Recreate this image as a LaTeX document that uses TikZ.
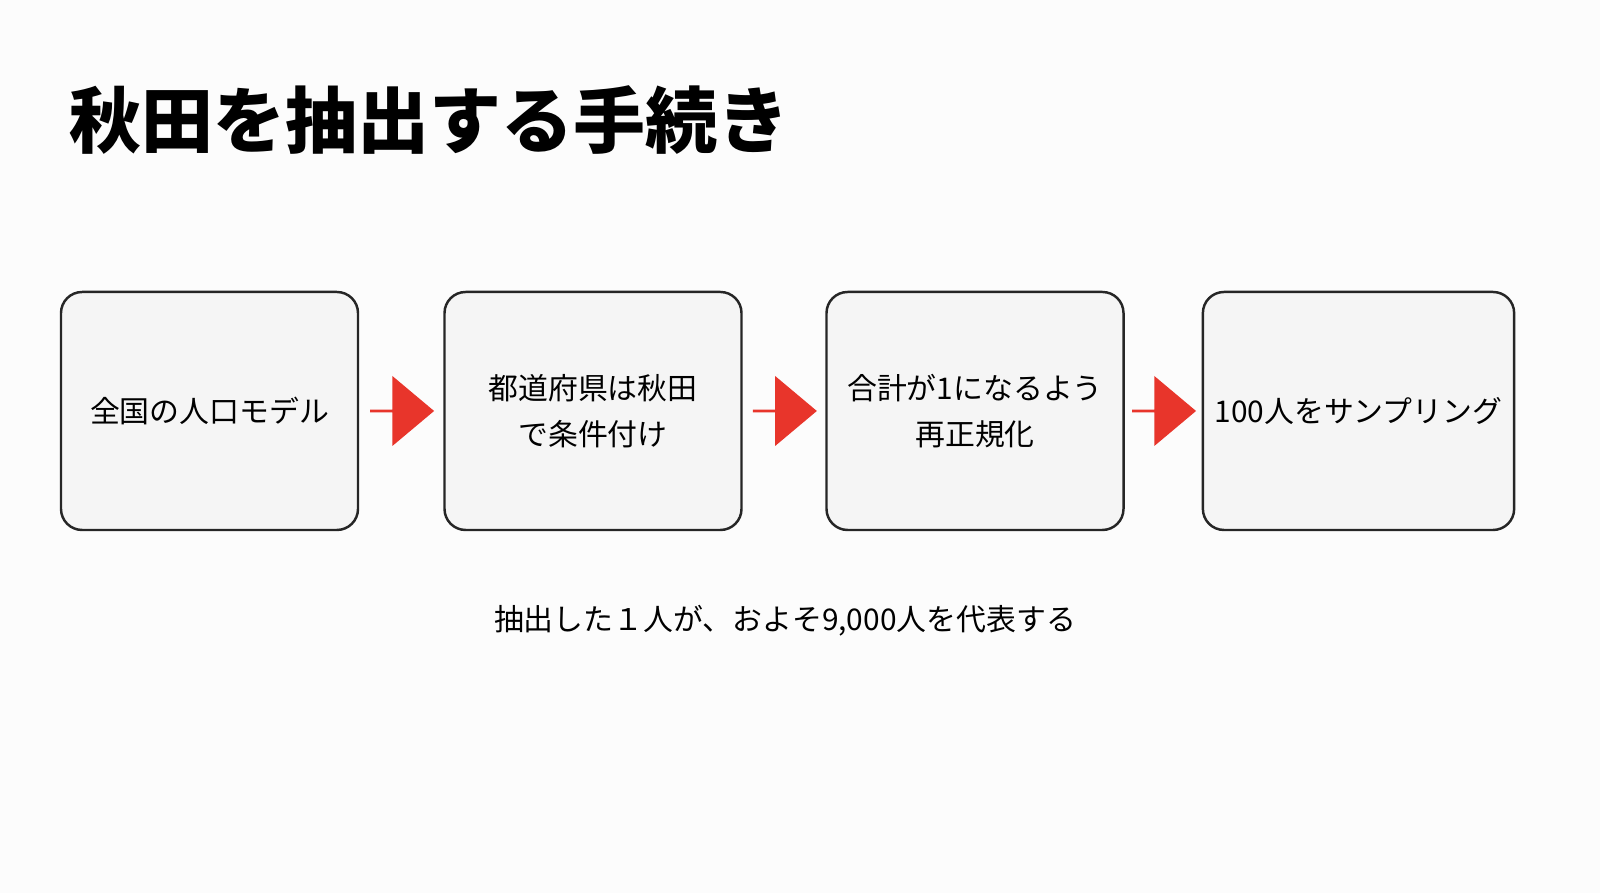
\documentclass[tikz,border=0pt]{standalone}
\usepackage{fontspec}
\setmainfont{Noto Sans CJK JP}
\newfontfamily\titlefont{Noto Sans CJK JP Black}
\usetikzlibrary{positioning,shapes.arrows,calc}
\definecolor{arrowred}{HTML}{E8352B}

\tikzset{
  stepbox/.style={draw=black!85, line width=0.7pt, rounded corners=6pt, fill=black!4,
    minimum width=2.97cm, minimum height=2.38cm, align=center, font=\fontsize{8.5}{13}\selectfont},
  redarrow/.style={single arrow, fill=arrowred, draw=none, minimum height=0.64cm,
    minimum width=0.7cm, single arrow head extend=0.17cm, single arrow tip angle=80, inner sep=0pt}
}

\begin{document}
\begin{tikzpicture}
  \fill[black!1] (0,0) rectangle (16,8.93);
  \useasboundingbox (0,0) rectangle (16,8.93);
  \node[anchor=west, font=\titlefont\fontsize{20.5}{24}\selectfont] (title) at (0.57,7.73) {秋田を抽出する手続き};
  % the four steps
  \node[stepbox] (model) at (2.095,4.82) {全国の人口モデル};
  \node[stepbox] (cond) at (5.93,4.82) {都道府県は秋田\\で条件付け};
  \node[stepbox] (norm) at (9.75,4.82) {合計が1になるよう\\再正規化};
  \node[stepbox] (sample) at (13.585,4.82) {100人をサンプリング};
  \node[redarrow] (a1) at ($(model.east)!0.5!(cond.west)$) {};
  \node[redarrow] (a2) at ($(cond.east)!0.5!(norm.west)$) {};
  \node[redarrow] (a3) at ($(norm.east)!0.5!(sample.west)$) {};
  \node[font=\fontsize{8.5}{10}\selectfont] (note) at (7.85,2.72) {抽出した１人が、およそ9,000人を代表する};
\end{tikzpicture}
\end{document}
